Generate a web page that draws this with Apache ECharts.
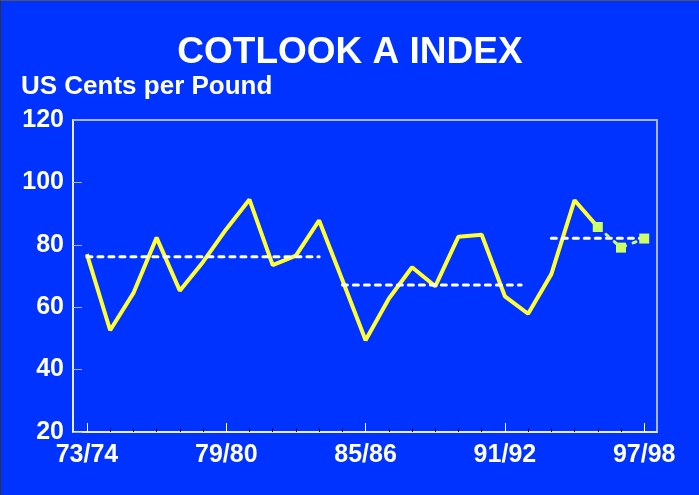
<!DOCTYPE html>
<html>
<head>
<meta charset="utf-8">
<script src="https://cdn.jsdelivr.net/npm/echarts@6/dist/echarts.min.js"></script>
<style>
  html, body { margin: 0; padding: 0; background: #0033ff; }
  #chart { width: 698px; height: 494px; border-left: 1px solid #333; border-top: 1px solid #555; background: #0033ff; }
</style>
</head>
<body>
<div id="chart"></div>
<script>
// seasons on the x axis
const seasons = [
  '73/74', '74/75', '75/76', '76/77', '77/78', '78/79', '79/80', '80/81', '81/82',
  '82/83', '83/84', '84/85', '85/86', '86/87', '87/88', '88/89', '89/90', '90/91',
  '91/92', '92/93', '93/94', '94/95', '95/96', '96/97', '97/98'
];
const labelSeasons = [0, 6, 12, 18, 24];

// actual index (yellow), 73/74 .. 95/96
const actual = [
  77, 52.6, 64.5, 82.3, 65.3, 74.5, 85, 94.5, 73.5, 76.5, 87.8,
  68.7, 49.4, 62.7, 72.8, 66.7, 82.6, 83.2, 63.5, 57.9, 70.6, 94.3, 85.7
];
// estimates (green squares), 95/96 .. 97/98
const estimate = [85.7, 79.1, 82];
const estimateStart = 22;

// period averages: [from, to, value]
const averages = [
  [0, 10, 76.2],
  [11, 18.7, 67.1],
  [20, 24, 82.1]
];

const yTicks = { min: 20, max: 120, step: 20 };

const chart = echarts.init(document.getElementById('chart'));

const font = '"Liberation Sans", Arial, sans-serif';
const allTicks = seasons.map((s, i) => i).filter(i => labelSeasons.indexOf(i) === -1);

const avgSeries = averages.map(a => ({
  type: 'line',
  data: [[a[0], a[2]], [a[1], a[2]]],
  symbol: 'none',
  z: 4,
  lineStyle: { color: '#ffffff', width: 3, type: [5, 6], cap: 'round' },
  silent: true
}));

const option = {
  backgroundColor: '#0033ff',
  animation: false,
  title: [
    {
      text: 'COTLOOK A INDEX',
      left: 'center',
      top: 28,
      textStyle: { color: '#ffffff', fontSize: 37, fontWeight: 'bold', fontFamily: font }
    },
    {
      text: 'US Cents per Pound',
      left: 15,
      top: 68,
      textStyle: { color: '#ffffff', fontSize: 26, fontWeight: 'bold', fontFamily: font }
    }
  ],
  grid: {
    left: 72, right: 42, top: 119, bottom: 63,
    show: true,
    borderColor: '#a8b4ff',
    borderWidth: 2,
    backgroundColor: 'transparent'
  },
  xAxis: [
    {
      type: 'value',
      min: -0.6,
      max: 24.55,
      position: 'bottom',
      axisLine: { show: true, onZero: false, lineStyle: { color: '#ffffff', width: 1.5 } },
      axisTick: { show: true, inside: true, length: 4, customValues: allTicks, lineStyle: { color: '#111133', width: 1 } },
      axisLabel: {
        customValues: labelSeasons,
        formatter: v => seasons[Math.round(v)],
        color: '#ffffff', fontSize: 25, fontWeight: 'bold', fontFamily: font, margin: 11
      },
      splitLine: { show: false }
    },
    {
      type: 'value',
      min: -0.6,
      max: 24.55,
      position: 'bottom',
      axisLine: { show: false, onZero: false },
      axisTick: { show: true, inside: true, length: 9, customValues: labelSeasons, lineStyle: { color: '#ffffff', width: 1 } },
      axisLabel: { show: false },
      splitLine: { show: false }
    }
  ],
  yAxis: {
    type: 'value',
    min: yTicks.min,
    max: yTicks.max,
    interval: yTicks.step,
    axisLine: { show: true, onZero: false, lineStyle: { color: '#ffffff', width: 1.5 } },
    axisTick: { show: true, inside: true, length: 9, lineStyle: { color: '#a8b4ff', width: 1 } },
    axisLabel: { color: '#ffffff', fontSize: 25, fontWeight: 'bold', fontFamily: font, margin: 9 },
    splitLine: { show: false }
  },
  series: [
    {
      type: 'line',
      data: actual.map((v, i) => [i, v]),
      symbol: 'none',
      z: 3,
      lineStyle: { color: '#ffff33', width: 4 }
    },
    {
      type: 'line',
      data: estimate.map((v, i) => [estimateStart + i, v]),
      symbol: 'rect',
      symbolSize: 10,
      z: 5,
      itemStyle: { color: '#ccff66' },
      lineStyle: { color: '#ccff66', width: 3, type: [3, 8], cap: 'round' }
    }
  ].concat(avgSeries)
};

chart.setOption(option);
</script>
</body>
</html>
